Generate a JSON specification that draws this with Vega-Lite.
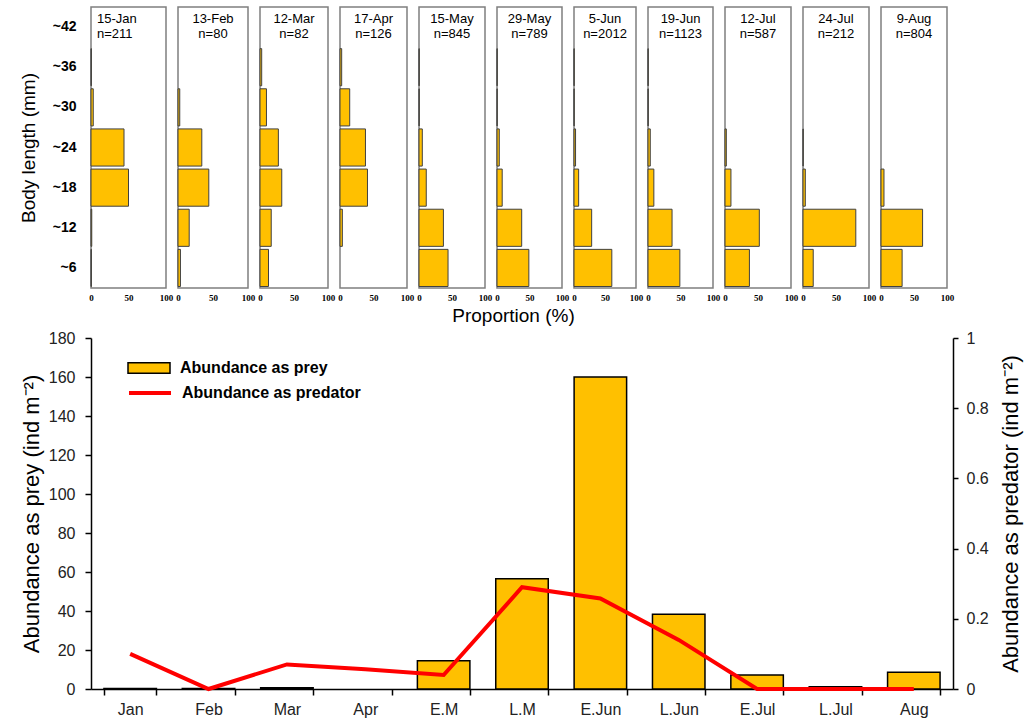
{
  "$schema": "https://vega.github.io/schema/vega-lite/v6.json",
  "padding": {"left": 18, "top": 6, "right": 5, "bottom": 5},
  "config": {
    "font": "Liberation Sans",
    "view": {"stroke": "#7f7f7f", "strokeWidth": 1.5},
    "axis": {"grid": false, "labelColor": "#000", "titleColor": "#000", "domainColor": "#000", "tickColor": "#000", "titleFontWeight": "normal"},
    "title": {"fontSize": 13, "fontWeight": "normal", "offset": -34, "lineHeight": 15, "color": "#000", "anchor": "middle", "frame": "group"}
  },
  "datasets": {
    "hist": [
      {"date": "15-Jan", "cls": "~36", "pct": 0.5},
      {"date": "15-Jan", "cls": "~30", "pct": 3},
      {"date": "15-Jan", "cls": "~24", "pct": 44},
      {"date": "15-Jan", "cls": "~18", "pct": 50},
      {"date": "15-Jan", "cls": "~12", "pct": 1},
      {"date": "15-Jan", "cls": "~6", "pct": 0.5},
      {"date": "13-Feb", "cls": "~30", "pct": 2.5},
      {"date": "13-Feb", "cls": "~24", "pct": 34},
      {"date": "13-Feb", "cls": "~18", "pct": 44},
      {"date": "13-Feb", "cls": "~12", "pct": 16},
      {"date": "13-Feb", "cls": "~6", "pct": 3.5},
      {"date": "12-Mar", "cls": "~36", "pct": 2.5},
      {"date": "12-Mar", "cls": "~30", "pct": 9.5},
      {"date": "12-Mar", "cls": "~24", "pct": 27},
      {"date": "12-Mar", "cls": "~18", "pct": 32},
      {"date": "12-Mar", "cls": "~12", "pct": 16.5},
      {"date": "12-Mar", "cls": "~6", "pct": 12.5},
      {"date": "17-Apr", "cls": "~36", "pct": 2.5},
      {"date": "17-Apr", "cls": "~30", "pct": 14.5},
      {"date": "17-Apr", "cls": "~24", "pct": 38},
      {"date": "17-Apr", "cls": "~18", "pct": 41},
      {"date": "17-Apr", "cls": "~12", "pct": 3.5},
      {"date": "15-May", "cls": "~36", "pct": 0.3},
      {"date": "15-May", "cls": "~30", "pct": 0.3},
      {"date": "15-May", "cls": "~24", "pct": 5},
      {"date": "15-May", "cls": "~18", "pct": 11},
      {"date": "15-May", "cls": "~12", "pct": 37},
      {"date": "15-May", "cls": "~6", "pct": 44},
      {"date": "29-May", "cls": "~36", "pct": 0.3},
      {"date": "29-May", "cls": "~30", "pct": 0.3},
      {"date": "29-May", "cls": "~24", "pct": 3.5},
      {"date": "29-May", "cls": "~18", "pct": 8},
      {"date": "29-May", "cls": "~12", "pct": 38},
      {"date": "29-May", "cls": "~6", "pct": 49},
      {"date": "5-Jun", "cls": "~36", "pct": 0.3},
      {"date": "5-Jun", "cls": "~30", "pct": 0.3},
      {"date": "5-Jun", "cls": "~24", "pct": 2.5},
      {"date": "5-Jun", "cls": "~18", "pct": 7.5},
      {"date": "5-Jun", "cls": "~12", "pct": 28.5},
      {"date": "5-Jun", "cls": "~6", "pct": 61},
      {"date": "19-Jun", "cls": "~36", "pct": 0.3},
      {"date": "19-Jun", "cls": "~30", "pct": 0.3},
      {"date": "19-Jun", "cls": "~24", "pct": 3.5},
      {"date": "19-Jun", "cls": "~18", "pct": 9},
      {"date": "19-Jun", "cls": "~12", "pct": 37},
      {"date": "19-Jun", "cls": "~6", "pct": 49},
      {"date": "12-Jul", "cls": "~24", "pct": 2},
      {"date": "12-Jul", "cls": "~18", "pct": 9},
      {"date": "12-Jul", "cls": "~12", "pct": 52},
      {"date": "12-Jul", "cls": "~6", "pct": 37},
      {"date": "24-Jul", "cls": "~24", "pct": 0.3},
      {"date": "24-Jul", "cls": "~18", "pct": 3.5},
      {"date": "24-Jul", "cls": "~12", "pct": 80},
      {"date": "24-Jul", "cls": "~6", "pct": 15.5},
      {"date": "9-Aug", "cls": "~18", "pct": 4.5},
      {"date": "9-Aug", "cls": "~12", "pct": 63},
      {"date": "9-Aug", "cls": "~6", "pct": 32}
    ],
    "abund": [
      {"period": "Jan", "series": "Abundance as prey", "value": 0.3},
      {"period": "Feb", "series": "Abundance as prey", "value": 0.3},
      {"period": "Mar", "series": "Abundance as prey", "value": 0.6},
      {"period": "E.M", "series": "Abundance as prey", "value": 14.5},
      {"period": "L.M", "series": "Abundance as prey", "value": 56.5},
      {"period": "E.Jun", "series": "Abundance as prey", "value": 160},
      {"period": "L.Jun", "series": "Abundance as prey", "value": 38.3},
      {"period": "E.Jul", "series": "Abundance as prey", "value": 7.2},
      {"period": "L.Jul", "series": "Abundance as prey", "value": 1.2},
      {"period": "Aug", "series": "Abundance as prey", "value": 8.6},
      {"period": "Jan", "series": "Abundance as predator", "value": 0.1},
      {"period": "Feb", "series": "Abundance as predator", "value": 0},
      {"period": "Mar", "series": "Abundance as predator", "value": 0.07},
      {"period": "Apr", "series": "Abundance as predator", "value": 0.056},
      {"period": "E.M", "series": "Abundance as predator", "value": 0.04},
      {"period": "L.M", "series": "Abundance as predator", "value": 0.29},
      {"period": "E.Jun", "series": "Abundance as predator", "value": 0.258},
      {"period": "L.Jun", "series": "Abundance as predator", "value": 0.14},
      {"period": "E.Jul", "series": "Abundance as predator", "value": 0},
      {"period": "L.Jul", "series": "Abundance as predator", "value": 0},
      {"period": "Aug", "series": "Abundance as predator", "value": 0}
    ]
  },
  "vconcat": [
    {
      "hconcat": [
        {"width": 75, "height": 281, "title": {"text": ["15-Jan", "n=211"], "anchor": "start", "align": "left", "dx": 6}, "data": {"name": "hist"}, "transform": [{"filter": "datum.date === '15-Jan'"}], "mark": {"type": "bar", "fill": "#FFC000", "stroke": "#404040", "strokeWidth": 1},
         "encoding": {"x": {"field": "pct", "type": "quantitative", "scale": {"domain": [0, 100], "nice": false}, "axis": {"values": [0, 50, 100], "title": null, "labelFont": "Liberation Serif", "labelFontWeight": "bold", "labelFontSize": 9, "labelFlush": false, "ticks": false, "tickSize": 0, "domain": false, "labelPadding": 5}},
          "y": {"field": "cls", "type": "nominal", "scale": {"domain": ["~42", "~36", "~30", "~24", "~18", "~12", "~6"], "paddingInner": 0.075, "paddingOuter": 0.0375}, "axis": {"title": "Body length (mm)", "titleFontSize": 19, "titlePadding": 14, "labelFontSize": 14, "labelFontWeight": "bold", "labelPadding": 15, "ticks": false, "tickSize": 0, "domain": false}}}},
        {"width": 70, "height": 281, "title": {"text": ["13-Feb", "n=80"]}, "data": {"name": "hist"}, "transform": [{"filter": "datum.date === '13-Feb'"}], "mark": {"type": "bar", "fill": "#FFC000", "stroke": "#404040", "strokeWidth": 1},
         "encoding": {"x": {"field": "pct", "type": "quantitative", "scale": {"domain": [0, 100], "nice": false}, "axis": {"values": [0, 50, 100], "title": null, "labelFont": "Liberation Serif", "labelFontWeight": "bold", "labelFontSize": 9, "labelFlush": false, "ticks": false, "tickSize": 0, "domain": false, "labelPadding": 5}},
          "y": {"field": "cls", "type": "nominal", "scale": {"domain": ["~42", "~36", "~30", "~24", "~18", "~12", "~6"], "paddingInner": 0.075, "paddingOuter": 0.0375}, "axis": null}}},
        {"width": 68, "height": 281, "title": {"text": ["12-Mar", "n=82"]}, "data": {"name": "hist"}, "transform": [{"filter": "datum.date === '12-Mar'"}], "mark": {"type": "bar", "fill": "#FFC000", "stroke": "#404040", "strokeWidth": 1},
         "encoding": {"x": {"field": "pct", "type": "quantitative", "scale": {"domain": [0, 100], "nice": false}, "axis": {"values": [0, 50, 100], "title": null, "labelFont": "Liberation Serif", "labelFontWeight": "bold", "labelFontSize": 9, "labelFlush": false, "ticks": false, "tickSize": 0, "domain": false, "labelPadding": 5}},
          "y": {"field": "cls", "type": "nominal", "scale": {"domain": ["~42", "~36", "~30", "~24", "~18", "~12", "~6"], "paddingInner": 0.075, "paddingOuter": 0.0375}, "axis": null}}},
        {"width": 67, "height": 281, "title": {"text": ["17-Apr", "n=126"]}, "data": {"name": "hist"}, "transform": [{"filter": "datum.date === '17-Apr'"}], "mark": {"type": "bar", "fill": "#FFC000", "stroke": "#404040", "strokeWidth": 1},
         "encoding": {"x": {"field": "pct", "type": "quantitative", "scale": {"domain": [0, 100], "nice": false}, "axis": {"values": [0, 50, 100], "title": null, "labelFont": "Liberation Serif", "labelFontWeight": "bold", "labelFontSize": 9, "labelFlush": false, "ticks": false, "tickSize": 0, "domain": false, "labelPadding": 5}},
          "y": {"field": "cls", "type": "nominal", "scale": {"domain": ["~42", "~36", "~30", "~24", "~18", "~12", "~6"], "paddingInner": 0.075, "paddingOuter": 0.0375}, "axis": null}}},
        {"width": 66, "height": 281, "title": {"text": ["15-May", "n=845"]}, "data": {"name": "hist"}, "transform": [{"filter": "datum.date === '15-May'"}], "mark": {"type": "bar", "fill": "#FFC000", "stroke": "#404040", "strokeWidth": 1},
         "encoding": {"x": {"field": "pct", "type": "quantitative", "scale": {"domain": [0, 100], "nice": false}, "axis": {"values": [0, 50, 100], "title": null, "labelFont": "Liberation Serif", "labelFontWeight": "bold", "labelFontSize": 9, "labelFlush": false, "ticks": false, "tickSize": 0, "domain": false, "labelPadding": 5}},
          "y": {"field": "cls", "type": "nominal", "scale": {"domain": ["~42", "~36", "~30", "~24", "~18", "~12", "~6"], "paddingInner": 0.075, "paddingOuter": 0.0375}, "axis": null}}},
        {"width": 65, "height": 281, "title": {"text": ["29-May", "n=789"]}, "data": {"name": "hist"}, "transform": [{"filter": "datum.date === '29-May'"}], "mark": {"type": "bar", "fill": "#FFC000", "stroke": "#404040", "strokeWidth": 1},
         "encoding": {"x": {"field": "pct", "type": "quantitative", "scale": {"domain": [0, 100], "nice": false}, "axis": {"values": [0, 50, 100], "title": "Proportion (%)", "titleFontSize": 19, "titlePadding": 4, "titleX": 16, "labelFont": "Liberation Serif", "labelFontWeight": "bold", "labelFontSize": 9, "labelFlush": false, "ticks": false, "tickSize": 0, "domain": false, "labelPadding": 5}},
          "y": {"field": "cls", "type": "nominal", "scale": {"domain": ["~42", "~36", "~30", "~24", "~18", "~12", "~6"], "paddingInner": 0.075, "paddingOuter": 0.0375}, "axis": null}}},
        {"width": 62, "height": 281, "title": {"text": ["5-Jun", "n=2012"]}, "data": {"name": "hist"}, "transform": [{"filter": "datum.date === '5-Jun'"}], "mark": {"type": "bar", "fill": "#FFC000", "stroke": "#404040", "strokeWidth": 1},
         "encoding": {"x": {"field": "pct", "type": "quantitative", "scale": {"domain": [0, 100], "nice": false}, "axis": {"values": [0, 50, 100], "title": null, "labelFont": "Liberation Serif", "labelFontWeight": "bold", "labelFontSize": 9, "labelFlush": false, "ticks": false, "tickSize": 0, "domain": false, "labelPadding": 5}},
          "y": {"field": "cls", "type": "nominal", "scale": {"domain": ["~42", "~36", "~30", "~24", "~18", "~12", "~6"], "paddingInner": 0.075, "paddingOuter": 0.0375}, "axis": null}}},
        {"width": 65, "height": 281, "title": {"text": ["19-Jun", "n=1123"]}, "data": {"name": "hist"}, "transform": [{"filter": "datum.date === '19-Jun'"}], "mark": {"type": "bar", "fill": "#FFC000", "stroke": "#404040", "strokeWidth": 1},
         "encoding": {"x": {"field": "pct", "type": "quantitative", "scale": {"domain": [0, 100], "nice": false}, "axis": {"values": [0, 50, 100], "title": null, "labelFont": "Liberation Serif", "labelFontWeight": "bold", "labelFontSize": 9, "labelFlush": false, "ticks": false, "tickSize": 0, "domain": false, "labelPadding": 5}},
          "y": {"field": "cls", "type": "nominal", "scale": {"domain": ["~42", "~36", "~30", "~24", "~18", "~12", "~6"], "paddingInner": 0.075, "paddingOuter": 0.0375}, "axis": null}}},
        {"width": 66, "height": 281, "title": {"text": ["12-Jul", "n=587"]}, "data": {"name": "hist"}, "transform": [{"filter": "datum.date === '12-Jul'"}], "mark": {"type": "bar", "fill": "#FFC000", "stroke": "#404040", "strokeWidth": 1},
         "encoding": {"x": {"field": "pct", "type": "quantitative", "scale": {"domain": [0, 100], "nice": false}, "axis": {"values": [0, 50, 100], "title": null, "labelFont": "Liberation Serif", "labelFontWeight": "bold", "labelFontSize": 9, "labelFlush": false, "ticks": false, "tickSize": 0, "domain": false, "labelPadding": 5}},
          "y": {"field": "cls", "type": "nominal", "scale": {"domain": ["~42", "~36", "~30", "~24", "~18", "~12", "~6"], "paddingInner": 0.075, "paddingOuter": 0.0375}, "axis": null}}},
        {"width": 66, "height": 281, "title": {"text": ["24-Jul", "n=212"]}, "data": {"name": "hist"}, "transform": [{"filter": "datum.date === '24-Jul'"}], "mark": {"type": "bar", "fill": "#FFC000", "stroke": "#404040", "strokeWidth": 1},
         "encoding": {"x": {"field": "pct", "type": "quantitative", "scale": {"domain": [0, 100], "nice": false}, "axis": {"values": [0, 50, 100], "title": null, "labelFont": "Liberation Serif", "labelFontWeight": "bold", "labelFontSize": 9, "labelFlush": false, "ticks": false, "tickSize": 0, "domain": false, "labelPadding": 5}},
          "y": {"field": "cls", "type": "nominal", "scale": {"domain": ["~42", "~36", "~30", "~24", "~18", "~12", "~6"], "paddingInner": 0.075, "paddingOuter": 0.0375}, "axis": null}}},
        {"width": 66, "height": 281, "title": {"text": ["9-Aug", "n=804"]}, "data": {"name": "hist"}, "transform": [{"filter": "datum.date === '9-Aug'"}], "mark": {"type": "bar", "fill": "#FFC000", "stroke": "#404040", "strokeWidth": 1},
         "encoding": {"x": {"field": "pct", "type": "quantitative", "scale": {"domain": [0, 100], "nice": false}, "axis": {"values": [0, 50, 100], "title": null, "labelFont": "Liberation Serif", "labelFontWeight": "bold", "labelFontSize": 9, "labelFlush": false, "ticks": false, "tickSize": 0, "domain": false, "labelPadding": 5}},
          "y": {"field": "cls", "type": "nominal", "scale": {"domain": ["~42", "~36", "~30", "~24", "~18", "~12", "~6"], "paddingInner": 0.075, "paddingOuter": 0.0375}, "axis": null}}}
      ],
      "spacing": 12,
      "bounds": "flush"
    },
    {
      "width": 862,
      "height": 351,
      "view": {"stroke": null},
      "data": {"name": "abund"},
      "encoding": {
        "x": {"field": "period", "type": "nominal", "scale": {"domain": ["Jan", "Feb", "Mar", "Apr", "E.M", "L.M", "E.Jun", "L.Jun", "E.Jul", "L.Jul", "Aug"], "paddingInner": 0.33, "paddingOuter": 0.165},
          "axis": {"title": null, "labelAngle": 0, "tickBand": "extent", "tickSize": 6, "labelPadding": 6, "labelFontSize": 16, "labelColor": "#222", "domainWidth": 1.5, "tickWidth": 1.5}}
      },
      "layer": [
        {
          "transform": [{"filter": "datum.series === 'Abundance as prey'"}],
          "mark": {"type": "bar", "stroke": "#000", "strokeWidth": 1.5},
          "encoding": {
            "y": {"field": "value", "type": "quantitative", "scale": {"domain": [0, 180], "nice": false},
              "axis": {"values": [0, 20, 40, 60, 80, 100, 120, 140, 160, 180], "title": "Abundance as prey (ind m⁻²)", "titleFontSize": 22, "titlePadding": 5, "labelFontSize": 16, "labelColor": "#222", "labelPadding": 10, "tickSize": 6, "domainWidth": 1.5, "tickWidth": 1.5}},
            "fill": {"field": "series", "type": "nominal", "scale": {"domain": ["Abundance as prey"], "range": ["#FFC000"]},
              "legend": {"orient": "none", "legendX": 36, "legendY": 339, "title": null, "symbolType": "M-1,-0.25H1V0.25H-1Z", "symbolSize": 1764, "symbolStrokeColor": "#000", "symbolStrokeWidth": 1.5, "labelFontSize": 16, "labelFontWeight": "bold", "labelColor": "#000", "labelOffset": 9, "labelLimit": 400}}
          }
        },
        {
          "transform": [{"filter": "datum.series === 'Abundance as predator'"}],
          "mark": {"type": "line", "strokeWidth": 4},
          "encoding": {
            "y": {"field": "value", "type": "quantitative", "scale": {"domain": [0, 1], "nice": false},
              "axis": {"orient": "right", "values": [0, 0.2, 0.4, 0.6, 0.8, 1], "format": "~g", "title": "Abundance as predator (ind m⁻²)", "titleAngle": 270, "titleBaseline": "top", "titleFontSize": 22, "titlePadding": 12, "labelFontSize": 16, "labelColor": "#222", "labelPadding": 8, "tickSize": 5, "domainWidth": 1.5, "tickWidth": 1.5}},
            "stroke": {"field": "series", "type": "nominal", "scale": {"domain": ["Abundance as predator"], "range": ["#FF0000"]},
              "legend": {"orient": "none", "legendX": 36, "legendY": 363, "title": null, "symbolType": "stroke", "symbolSize": 1764, "symbolStrokeWidth": 4, "labelFontSize": 16, "labelFontWeight": "bold", "labelColor": "#000", "labelOffset": 9, "labelLimit": 400}}
          }
        }
      ],
      "resolve": {"scale": {"y": "independent"}}
    }
  ],
  "spacing": 4
}
